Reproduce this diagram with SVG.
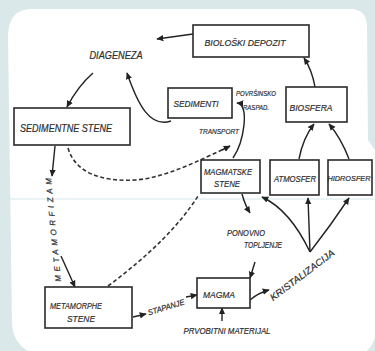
<svg xmlns="http://www.w3.org/2000/svg" width="375" height="351" viewBox="0 0 375 351">
  <defs>
    <marker id="arrow" viewBox="0 0 10 10" refX="9" refY="5" markerWidth="7" markerHeight="7" markerUnits="userSpaceOnUse" orient="auto">
      <path d="M0,0.5 L10,5 L0,9.5 Z" fill="#222"/>
    </marker>
    <style>
      .box { fill: #ffffff; stroke: #2a2a2a; stroke-width: 1.6; }
      .lbl { font-family: "Liberation Sans", Arial, sans-serif; font-style: italic; fill: #2e2e2e; stroke: #2e2e2e; stroke-width: 0.2; text-anchor: middle; }
      .con { fill: none; stroke: #222; stroke-width: 1.4; marker-end: url(#arrow); }
      .dash { fill: none; stroke: #333; stroke-width: 1.6; stroke-dasharray: 4 2.5; }
    </style>
  </defs>

  <!-- page background and sheet -->
  <rect x="0" y="0" width="375" height="351" fill="#dbe8ea"/>
  <path d="M8,35 Q9,9 32,9 L352,9 Q366,10 367,25 L368,140 L375,150 L375,338 Q371,350 360,356 L45,356 Q13,352 12,322 Z" fill="#ffffff"/>
  <line x1="8" y1="199" x2="375" y2="199" stroke="#d6e7ea" stroke-width="1"/>

  <!-- connectors -->
  <g id="connectors">
    <path class="con" d="M193,34 L157,39"/>
    <path class="con" d="M93,73 Q78,86 67,107"/>
    <path class="con" d="M171,121 C150,128 138,105 127,73"/>
    <path class="con" d="M233,158 C244,142 250,104 237,103"/>
    <path class="dash" d="M68,148 C75,172 100,182 135,180 C165,178 200,160 226,148"/>
    <path class="con" d="M222,150 L230,146"/>
    <path class="dash" d="M108,286 Q170,240 198,196"/>
    <path class="con" d="M55,146 L52,176"/>
    <path class="con" d="M61,256 L75,287"/>
    <path class="con" d="M315,87 Q312,70 304,58"/>
    <path class="con" d="M299,159 Q303,138 314,124"/>
    <path class="con" d="M349,159 Q341,138 329,124"/>
    <path class="con" d="M242,194 Q245,205 250,213"/>
    <path class="con" d="M255,262 L250,278"/>
    <path class="con" d="M250,300 Q258,293 269,290"/>
    <path class="con" d="M310,252 Q290,210 262,197"/>
    <path class="con" d="M310,252 Q309,225 308,198"/>
    <path class="con" d="M310,252 Q331,225 349,198"/>
    <path class="con" d="M133,317 L146,314"/>
    <path class="con" d="M186,297 L197,295"/>
    <path class="con" d="M222,321 L222,308"/>
  </g>

  <!-- nodes -->
  <g id="bioloski-depozit">
    <rect class="box" x="193" y="25" width="116" height="32"/>
    <text class="lbl" x="245" y="46" font-size="9.5" textLength="81" lengthAdjust="spacingAndGlyphs">BIOLOŠKI DEPOZIT</text>
  </g>
  <g id="diageneza">
    <text class="lbl" x="116" y="59" font-size="10" textLength="53" lengthAdjust="spacingAndGlyphs">DIAGENEZA</text>
  </g>
  <g id="sedimenti">
    <rect class="box" x="168" y="88" width="64" height="30"/>
    <text class="lbl" x="196" y="107" font-size="9.5" textLength="45" lengthAdjust="spacingAndGlyphs">SEDIMENTI</text>
  </g>
  <g id="povrsinsko-raspad">
    <text class="lbl" x="256" y="96" font-size="7.5" textLength="40" lengthAdjust="spacingAndGlyphs">POVRŠINSKO</text>
    <text class="lbl" x="256" y="110" font-size="7.5" textLength="26" lengthAdjust="spacingAndGlyphs">RASPAD.</text>
  </g>
  <g id="transport">
    <text class="lbl" x="219" y="134" font-size="8" textLength="40" lengthAdjust="spacingAndGlyphs">TRANSPORT</text>
  </g>
  <g id="sedimentne-stene">
    <rect class="box" x="14" y="108" width="116" height="37"/>
    <text class="lbl" x="66" y="132" font-size="10" textLength="92" lengthAdjust="spacingAndGlyphs">SEDIMENTNE STENE</text>
  </g>
  <g id="biosfera">
    <rect class="box" x="286" y="87" width="61" height="35"/>
    <text class="lbl" x="311" y="111" font-size="9.5" textLength="43" lengthAdjust="spacingAndGlyphs">BIOSFERA</text>
  </g>
  <g id="magmatske-stene">
    <rect class="box" x="201" y="160" width="59" height="33"/>
    <text class="lbl" x="228" y="175" font-size="9" textLength="48" lengthAdjust="spacingAndGlyphs">MAGMATSKE</text>
    <text class="lbl" x="227" y="187" font-size="9" textLength="26" lengthAdjust="spacingAndGlyphs">STENE</text>
  </g>
  <g id="atmosfer">
    <rect class="box" x="270" y="160" width="49" height="35"/>
    <text class="lbl" x="295" y="182" font-size="9" textLength="42" lengthAdjust="spacingAndGlyphs">ATMOSFER</text>
  </g>
  <g id="hidrosfer">
    <rect class="box" x="328" y="160" width="44" height="35"/>
    <text class="lbl" x="349" y="181" font-size="7.3">HIDROSFER</text>
  </g>
  <g id="metamorfizam">
    <text class="lbl" transform="translate(53,230) rotate(-95.5)" x="0" y="3" font-size="8" textLength="104">METAMORFIZAM</text>
  </g>
  <g id="ponovno-topljenje">
    <text class="lbl" x="246" y="236" font-size="8.5" textLength="38" lengthAdjust="spacingAndGlyphs">PONOVNO</text>
    <text class="lbl" x="263" y="248" font-size="8.5" textLength="38" lengthAdjust="spacingAndGlyphs">TOPLJENJE</text>
  </g>
  <g id="kristalizacija">
    <text class="lbl" transform="translate(302,275) rotate(-37)" x="0" y="3.5" font-size="9.5" textLength="78" lengthAdjust="spacingAndGlyphs">KRISTALIZACIJA</text>
  </g>
  <g id="metamorphe-stene">
    <rect class="box" x="45" y="287" width="87" height="41"/>
    <text class="lbl" x="76" y="309" font-size="9" textLength="52" lengthAdjust="spacingAndGlyphs">METAMORPHE</text>
    <text class="lbl" x="81" y="322" font-size="9" textLength="28" lengthAdjust="spacingAndGlyphs">STENE</text>
  </g>
  <g id="stapanje">
    <text class="lbl" transform="translate(166,307) rotate(-17)" x="0" y="3" font-size="8" textLength="38" lengthAdjust="spacingAndGlyphs">STAPANJE</text>
  </g>
  <g id="magma">
    <rect class="box" x="197" y="278" width="53" height="30"/>
    <text class="lbl" x="219" y="298" font-size="9.5" textLength="32" lengthAdjust="spacingAndGlyphs">MAGMA</text>
  </g>
  <g id="prvobitni-materijal">
    <text class="lbl" x="227" y="334" font-size="8.5" textLength="87" lengthAdjust="spacingAndGlyphs">PRVOBITNI MATERIJAL</text>
  </g>
</svg>
